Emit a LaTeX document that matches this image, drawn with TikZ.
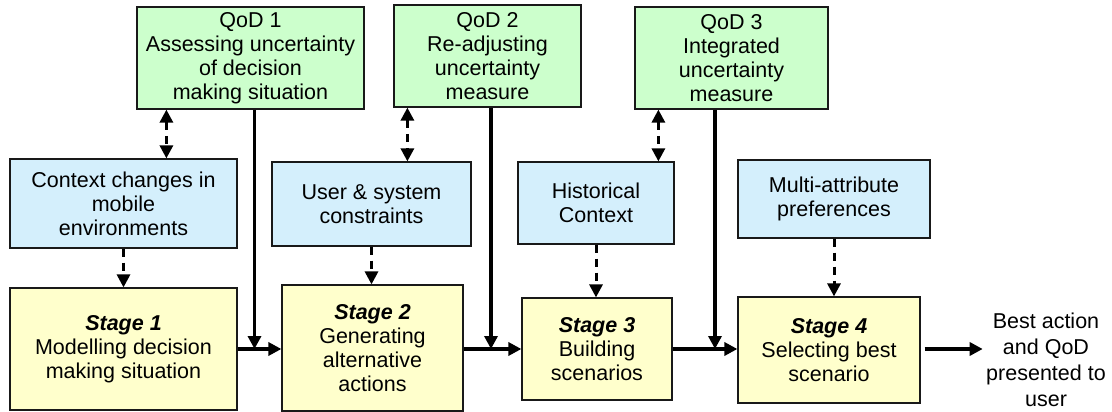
\documentclass[tikz,border=0pt]{standalone}
\usepackage{fontspec}
\setmainfont{Liberation Sans}
\usetikzlibrary{arrows.meta,calc,positioning}
\definecolor{qodgreen}{RGB}{204,255,204}
\definecolor{ctxblue}{RGB}{212,239,252}
\definecolor{stageyellow}{RGB}{255,255,204}
\tikzstyle{box}=[draw=black!90, line width=1.2pt, align=center, inner sep=0pt,
    font=\fontsize{21.5}{24}\selectfont]
\tikzstyle{qod}=[box, fill=qodgreen]
\tikzstyle{ctx}=[box, fill=ctxblue]
\tikzstyle{stage}=[box, fill=stageyellow]
\tikzstyle{flow}=[line width=3.4pt, ->]
\tikzstyle{link}=[line width=3pt, dash pattern=on 8pt off 6pt]
\def\vdrop{4pt}

\begin{document}
\begin{tikzpicture}[x=1pt, y=1pt, >={Triangle[length=13pt,width=13pt]}]
    \useasboundingbox (0,0) rectangle (1112,-412);
    \node (qod1) [qod, minimum width=227pt, minimum height=102pt] at (250.5,-58)
        {QoD 1\\Assessing uncertainty\\of decision\\making situation};
    \node (qod2) [qod, minimum width=187pt, minimum height=102pt] at (487.5,-56)
        {QoD 2\\Re-adjusting\\uncertainty\\measure};
    \node (qod3) [qod, minimum width=193pt, minimum height=102pt] at (731.5,-58)
        {QoD 3\\Integrated\\uncertainty\\measure};
    \node (ctx) [ctx, minimum width=227pt, minimum height=89pt] at (123.5,-203.5)
        {Context changes in\\mobile\\environments};
    \node (usr) [ctx, minimum width=199pt, minimum height=84pt] at (371.5,-204)
        {User \& system\\constraints};
    \node (hist) [ctx, minimum width=156pt, minimum height=82pt] at (596,-203)
        {Historical\\Context};
    \node (pref) [ctx, minimum width=192pt, minimum height=78pt] at (834,-199)
        {Multi-attribute\\preferences};
    \node (st1) [stage, minimum width=227pt, minimum height=122pt] at (123.5,-349)
        {\textbf{\textit{Stage 1}}\\Modelling decision\\making situation};
    \node (st2) [stage, minimum width=181pt, minimum height=126pt] at (372.5,-348)
        {\textbf{\textit{Stage 2}}\\Generating\\alternative\\actions};
    \node (st3) [stage, minimum width=150pt, minimum height=102pt] at (597,-349)
        {\textbf{\textit{Stage 3}}\\Building\\scenarios};
    \node (st4) [stage, minimum width=182pt, minimum height=106pt] at (829,-350)
        {\textbf{\textit{Stage 4}}\\Selecting best\\scenario};
    \node (out) [align=center, font=\fontsize{21.5}{26}\selectfont] at (1046,-360)
        {Best action\\and QoD\\presented to\\user};
    \draw [flow] (st1.east) -- (st1.east -| st2.west);
    \draw [flow] (st2.east |- st1.east) -- (st1.east -| st3.west);
    \draw [flow] (st3.east |- st1.east) -- (st1.east -| st4.west);
    \draw [flow] ([xshift=\vdrop]st4.east |- st1.east) -- (st1.east -| out.west);
    \draw [flow] ([xshift=4pt]qod1.south) -- ([xshift=4pt]qod1.south |- st1.east);
    \draw [flow] ([xshift=3.5pt]qod2.south) -- ([xshift=3.5pt]qod2.south |- st1.east);
    \draw [flow] ([xshift=-16.5pt]qod3.south) -- ([xshift=-16.5pt]qod3.south |- st1.east);
    \draw [link, <->] ([xshift=30pt]qod1.south west) -- ([xshift=30pt]qod1.south west |- ctx.north);
    \draw [link, <->] ([xshift=14pt]qod2.south west) -- ([xshift=14pt]qod2.south west |- usr.north);
    \draw [link, <->] ([xshift=24pt]qod3.south west) -- ([xshift=24pt]qod3.south west |- hist.north);
    \draw [link, ->] (ctx.south) -- (ctx.south |- st1.north);
    \draw [link, ->] (usr.south) -- (usr.south |- st2.north);
    \draw [link, ->] (hist.south) -- (hist.south |- st3.north);
    \draw [link, ->] (pref.south) -- (pref.south |- st4.north);
\end{tikzpicture}
\end{document}
